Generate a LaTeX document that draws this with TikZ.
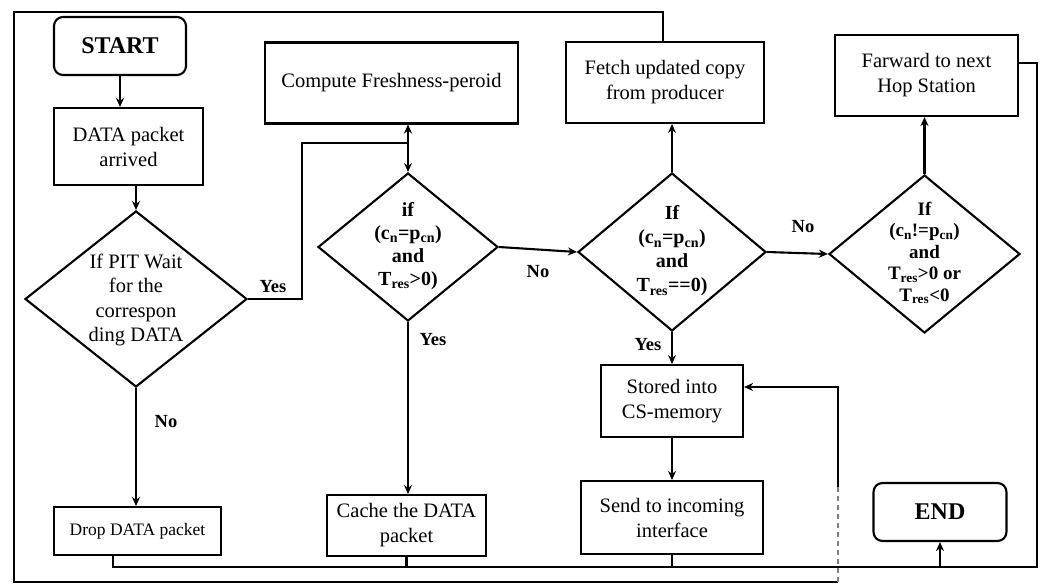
\documentclass[tikz,border=0pt]{standalone}
\usepackage{fontspec}
\setmainfont{Liberation Serif}
\usetikzlibrary{shapes.geometric,arrows.meta}

\begin{document}
\begin{tikzpicture}[x=1pt,y=-1pt,
  line width=2.1pt,
  box/.style={draw, rectangle, inner sep=2pt, align=center, font=\fontsize{20.5}{25}\selectfont},
  term/.style={draw, rectangle, rounded corners=9pt, font=\fontsize{24}{28}\selectfont\bfseries},
  dia/.style={draw, diamond, inner sep=0pt},
  diatext/.style={align=center, inner sep=0pt},
  lbl/.style={font=\fontsize{18.5}{20}\selectfont\bfseries},
  arr/.style={-{Stealth[length=9pt,width=8pt]}},
]
\useasboundingbox (0,0) rectangle (1042,584);

% process and terminal boxes
\node[term, minimum width=132pt, minimum height=58pt] (start) at (120,46) {START};
\node[box, minimum width=149pt, minimum height=77pt] (arrived) at (128.5,146.5) {DATA packet\\arrived};
\node[box, minimum width=253pt, minimum height=81pt] (compute) at (391.5,83) {Compute Freshness-peroid};
\node[box, minimum width=198pt, minimum height=81pt] (fetch) at (665,82.5) {Fetch updated copy\\from producer};
\node[box, minimum width=183pt, minimum height=81pt] (forward) at (926.5,75.5) {Farward to next\\Hop Station};
\node[box, minimum width=167pt, minimum height=48pt, font=\fontsize{17.5}{20}\selectfont] (drop) at (137.5,531) {Drop DATA packet};
\node[box, minimum width=159pt, minimum height=61pt] (cache) at (406.5,525.5) {Cache the DATA\\packet};
\node[box, minimum width=142pt, minimum height=72pt] (stored) at (672,401) {Stored into\\CS-memory};
\node[box, minimum width=182pt, minimum height=73pt] (send) at (672,517.5) {Send to incoming\\interface};
\node[term, minimum width=133pt, minimum height=58pt] (end) at (940,512) {END};

% decisions
\node[dia, minimum width=222pt, minimum height=176pt] (pit) at (136,299) {};
\node[diatext, font=\fontsize{20.5}{24.5}\selectfont] (pittxt) at (136,300) {If PIT Wait\\for the\\correspon\\ding DATA};

\node[dia, minimum width=180pt, minimum height=148pt] (fresh) at (408,247) {};
\node[diatext, font=\fontsize{20}{23}\selectfont\bfseries] (freshtxt) at (408,246) {if\\(c\textsubscript{n}=p\textsubscript{cn})\\and\\T\textsubscript{res}>0)};

\node[dia, minimum width=188pt, minimum height=158pt] (same) at (672,252) {};
\node[diatext, font=\fontsize{20}{24}\selectfont\bfseries] (sametxt) at (672,251) {If\\(c\textsubscript{n}=p\textsubscript{cn})\\and\\T\textsubscript{res}==0)};

\node[dia, minimum width=191pt, minimum height=158pt] (diff) at (924.5,254) {};
\node[diatext, font=\fontsize{19}{21.5}\selectfont\bfseries] (difftxt) at (924.5,253) {If\\(c\textsubscript{n}!=p\textsubscript{cn})\\and\\T\textsubscript{res}>0 or\\T\textsubscript{res}<0};

% bend points
\coordinate (yesturn) at (302,143);
\coordinate (split) at (408,143);
\coordinate (topright) at (663,12);
\coordinate (topleft) at (14,12);
\coordinate (botleft) at (14,582);
\coordinate (botright) at (838,582);
\coordinate (dashend) at (838,487);
\coordinate (loopin) at (838,387);
\coordinate (busL) at (113,567);
\coordinate (busR) at (1037,567);
\coordinate (fwdturn) at (1037,63);

% main flow
\draw[arr] (start.south) -- (start.south |- arrived.north);
\draw[arr] (pit.north |- arrived.south) -- (pit.north);
\draw (pit.east) -| (yesturn) -- (split);
\draw[arr] (split) -- (split |- compute.south);
\draw[arr] (split) -- (fresh.north);
\draw[arr] (pit.south) -- (pit.south |- drop.north);
\draw[arr] (fresh.east) -- (same.west);
\draw[arr] (fresh.south) -- (fresh.south |- cache.north);
\draw[arr] (same.north) -- (same.north |- fetch.south);
\draw[arr] (same.south) -- (stored.north);
\draw[arr] (same.east) -- (diff.west);
\draw[arr] (diff.north) -- (diff.north |- forward.south);
\draw[arr] (stored.south) -- (send.north);

% return loop from the producer back to the content store
\draw (fetch.north -| topright) -- (topright) -- (topleft) -- (botleft) -- (botright);
\draw[gray, line width=1.4pt, dash pattern=on 5pt off 4pt] (botright) -- (dashend);
\draw[arr] (dashend) -- (loopin) -- (loopin -| stored.east);

% collector bus into END
\draw (busL |- drop.south) -- (busL) -- (busR) -- (fwdturn) -- (fwdturn -| forward.east);
\draw (cache.south) -- (cache.south |- busL);
\draw (send.south) -- (send.south |- busL);
\draw[arr] (end.south |- busL) -- (end.south);

% branch labels
\node[lbl] (yes1) at (273,287) {Yes};
\node[lbl] (no1) at (166,422) {No};
\node[lbl] (no2) at (538,272) {No};
\node[lbl] (yes2) at (433,340) {Yes};
\node[lbl] (yes3) at (648,345) {Yes};
\node[lbl] (no3) at (803,227) {No};
\end{tikzpicture}
\end{document}
